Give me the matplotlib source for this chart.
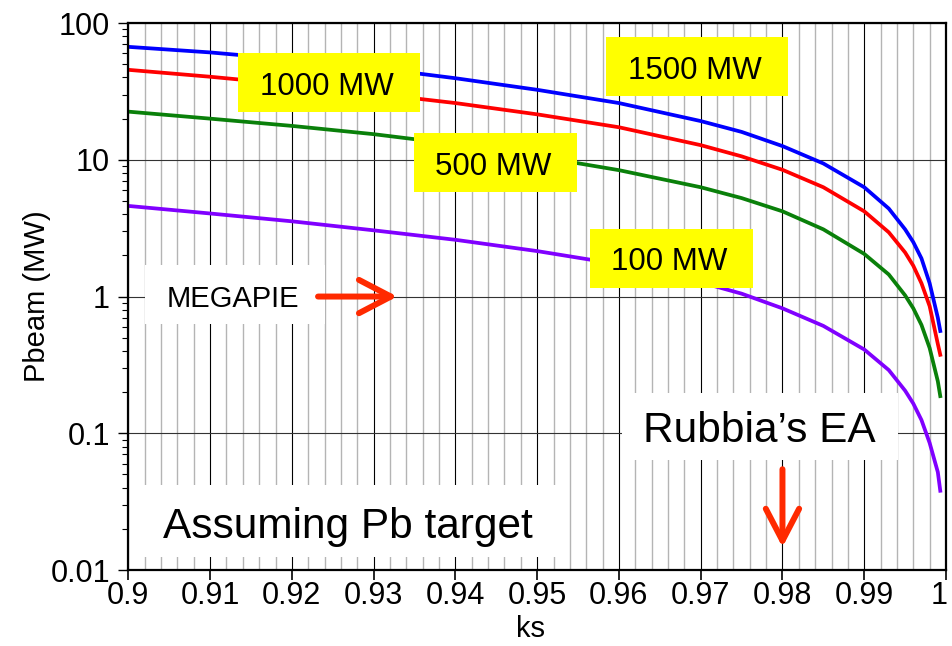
import matplotlib
matplotlib.use("Agg")
import matplotlib.pyplot as plt
import matplotlib.transforms as mtransforms
from matplotlib.patches import Rectangle
from matplotlib.ticker import LogLocator, NullFormatter
import numpy as np

plt.rcParams['font.family'] = ['Liberation Sans', 'DejaVu Sans']

# ks values and beam power (MW) for each thermal power
ks = [0.9, 0.91, 0.92, 0.93, 0.94, 0.95, 0.96, 0.97, 0.975, 0.98, 0.985,
      0.99, 0.993, 0.995, 0.996, 0.997, 0.998, 0.999, 0.9993]
p1500 = [67, 61, 54, 47, 39.5, 32.5, 26, 19.2, 16, 12.6, 9.4,
         6.3, 4.4, 3.1, 2.5, 1.9, 1.25, 0.70, 0.56]
p1000 = [45.5, 40.5, 35.5, 30.5, 26, 21.5, 17.3, 12.8, 10.6, 8.45, 6.3,
         4.2, 2.95, 2.1, 1.68, 1.25, 0.85, 0.45, 0.375]
p500 = [22.5, 20, 17.7, 15.4, 13, 10.6, 8.4, 6.3, 5.25, 4.2, 3.1,
        2.05, 1.45, 1.02, 0.82, 0.62, 0.42, 0.24, 0.187]
p100 = [4.6, 4.05, 3.55, 3.05, 2.6, 2.15, 1.72, 1.27, 1.05, 0.82, 0.61,
        0.41, 0.29, 0.205, 0.165, 0.125, 0.085, 0.052, 0.038]

xticks = [0.9, 0.91, 0.92, 0.93, 0.94, 0.95, 0.96, 0.97, 0.98, 0.99, 1.0]
xlabels = ["0.9", "0.91", "0.92", "0.93", "0.94", "0.95", "0.96", "0.97",
           "0.98", "0.99", "1"]
yticks = [0.01, 0.1, 1, 10, 100]
ylabels = ["0.01", "0.1", "1", "10", "100"]

fig = plt.figure(figsize=(9.52, 6.46), dpi=100)
ax = fig.add_axes([0.1348, 0.1176, 0.8589, 0.8467])

ax.plot(ks, p1500, color='#0000ff', lw=2.7, zorder=2)
ax.plot(ks, p1000, color='#ff0000', lw=2.7, zorder=2)
ax.plot(ks, p500, color='#0a800a', lw=2.7, zorder=2)
ax.plot(ks, p100, color='#8000ff', lw=2.7, zorder=2)

ax.set_yscale('log')
ax.set_xlim(0.9, 1.0)
ax.set_ylim(0.01, 100)
ax.set_xticks(xticks)
ax.set_xticklabels(xlabels)
ax.set_xticks(np.arange(0.9, 1.0001, 0.002), minor=True)
ax.set_yticks(yticks)
ax.set_yticklabels(ylabels)
ax.yaxis.set_minor_locator(LogLocator(base=10, subs=np.arange(2, 10)))
ax.yaxis.set_minor_formatter(NullFormatter())

ax.tick_params(axis='x', which='major', length=7.2, width=1.2, labelsize=22, pad=1)
ax.tick_params(axis='x', which='minor', length=0)
ax.tick_params(axis='y', which='major', length=7.2, width=1, labelsize=22, pad=6)
ax.tick_params(axis='y', which='minor', length=4.3, width=0.8)

# nudge the last x label so it stays inside the figure
last = ax.get_xticklabels()[-1]
last.set_transform(last.get_transform() +
                   mtransforms.ScaledTranslation(-5 / 72, 0, fig.dpi_scale_trans))

ax.grid(which='minor', axis='x', color='#b4b4b4', lw=1.0, zorder=0)
ax.grid(which='major', axis='x', color='black', lw=0.8, zorder=0)
ax.grid(which='major', axis='y', color='#333333', lw=0.8, zorder=0)
for s in ax.spines.values():
    s.set_linewidth(1.6)

ax.set_xlabel('ks', fontsize=21)
ax.xaxis.set_label_coords(0.492, -0.082)
ax.set_ylabel('Pbeam (MW)', fontsize=21)
ax.yaxis.set_label_coords(-0.0945, 0.5)


def label_box(x0, x1, y0, y1, text, tx, ty, size, face):
    ax.add_patch(Rectangle((x0, y0), x1 - x0, y1 - y0, transform=ax.transAxes,
                           facecolor=face, edgecolor='none', zorder=3))
    ax.text(tx, ty, text, transform=ax.transAxes, ha='center', va='baseline',
            fontsize=size, color='black', zorder=4)


label_box(0.1342, 0.3567, 0.8373, 0.9452, '1000 MW', 0.2424, 0.8684, 22.5, '#ffff00')
label_box(0.5842, 0.8068, 0.8665, 0.9744, '1500 MW', 0.6930, 0.8976, 22.5, '#ffff00')
label_box(0.3494, 0.5484, 0.6916, 0.7995, '500 MW', 0.4464, 0.7221, 22.5, '#ffff00')
label_box(0.5646, 0.7643, 0.5161, 0.6234, '100 MW', 0.6615, 0.5484, 22.5, '#ffff00')
label_box(0.0203, 0.2406, 0.4497, 0.5576, 'MEGAPIE', 0.1284, 0.4814, 21, 'white')
label_box(0.6040, 0.9413, 0.2011, 0.3236, 'Rubbia\u2019s EA', 0.7719, 0.2346, 30.5, 'white')
label_box(0.0143, 0.5278, 0.0238, 0.1554, 'Assuming Pb target', 0.2679, 0.0580, 30.5, 'white')

arrow = dict(arrowstyle='->,head_length=1.15,head_width=0.6', color='#ff2a00',
             lw=4.3, shrinkA=0, shrinkB=0, mutation_scale=20,
             capstyle='round', joinstyle='round')
ax.annotate('', xy=(0.9329, 1), xytext=(0.9232, 1), arrowprops=arrow, zorder=5)
ax.annotate('', xy=(0.98, 0.0147), xytext=(0.98, 0.0546), arrowprops=arrow, zorder=5)

fig.savefig('out.png', dpi=100)
